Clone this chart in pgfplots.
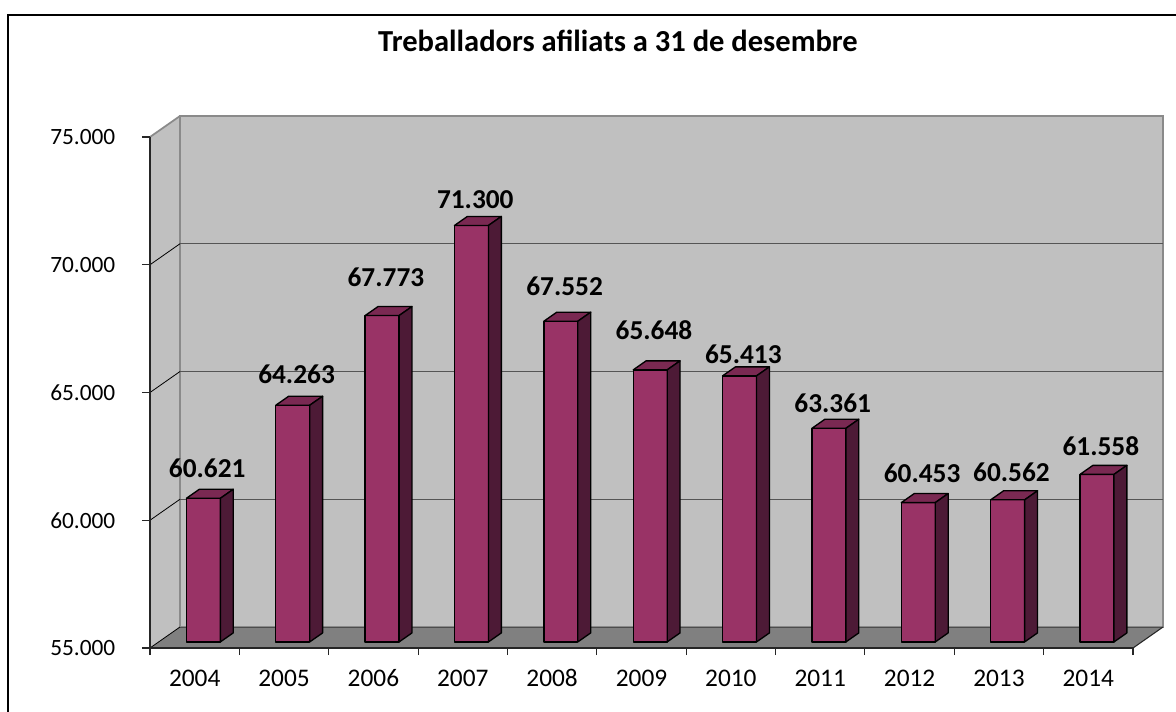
\documentclass[border=0pt]{standalone}
\usepackage{fontspec}
\setmainfont{Carlito}
\usepackage{pgfplots}
\usepackage{pgfplotstable}
\pgfplotsset{compat=1.18}

\definecolor{wall}{HTML}{C0C0C0}
\definecolor{floorc}{HTML}{808080}
\definecolor{barfront}{HTML}{993366}
\definecolor{bartop}{HTML}{7A2952}
\definecolor{barside}{HTML}{4D1A36}
\definecolor{gridc}{HTML}{555555}
\definecolor{edgec}{HTML}{8A8A8A}

% values in thousands; ly = height of the data label
\pgfplotstableread{
i v ly
0 60.621 62.045
1 64.263 65.724
2 67.773 69.521
3 71.300 72.535
4 67.552 69.169
5 65.648 67.447
6 65.413 66.507
7 63.361 64.589
8 60.453 61.850
9 60.562 61.889
10 61.558 62.906
}\data

\begin{document}
\begin{tikzpicture}
\begin{axis}[
  at={(0,0)}, anchor=south west,
  scale only axis, width=737.25pt, height=383.25pt,
  xmin=0, xmax=11, ymin=55, ymax=75,
  clip=false, axis on top,
  axis lines=left,
  axis line style={-, line width=1pt, draw=black!85},
  tick align=outside,
  major tick length=6pt, minor tick length=5.25pt,
  tick style={line width=0.8pt, black!85},
  xtick={0.5,1.5,...,10.5},
  xticklabels={2004,2005,2006,2007,2008,2009,2010,2011,2012,2013,2014},
  minor xtick={0,1,...,11},
  major x tick style={draw=none},
  ytick={55,60,65,70,75},
  yticklabels={55.000,60.000,65.000,70.000,75.000},
  /pgf/number format/assume math mode=true,
  xticklabel style={font=\fontsize{19}{23}\selectfont, text height=13pt, text depth=0pt, yshift=-6pt},
  yticklabel style={font=\fontsize{17.5}{21}\selectfont, xshift=-16.5pt},
]
% walls and floor
\addplot[fill=wall, draw=none] coordinates {(0,55) (0,75) (0.3356,75.822) (0.3356,55.822)} -- cycle;
\addplot[fill=wall, draw=edgec, line width=1.3pt] coordinates {(0.3356,55.822) (11.3356,55.822) (11.3356,75.822) (0.3356,75.822)} -- cycle;
\addplot[draw=edgec, line width=1.3pt] coordinates {(0,75) (0.3356,75.822)};
\addplot[fill=floorc, draw=none] coordinates {(0,55) (11,55) (11.3356,55.822) (0.3356,55.822)} -- cycle;
\addplot[draw=black!70, line width=0.6pt] coordinates {(0.3356,55.822) (11.3356,55.822)};
\addplot[draw=black!85, line width=0.8pt] coordinates {(11,55) (11.3356,55.822)};
% grid lines on the back wall and the side wall
\addplot[draw=gridc, line width=1pt] coordinates {(0.3356,60.822) (11.3356,60.822)};
\addplot[draw=gridc, line width=1pt] coordinates {(0.3356,65.822) (11.3356,65.822)};
\addplot[draw=gridc, line width=1pt] coordinates {(0.3356,70.822) (11.3356,70.822)};
\addplot[draw=black, line width=0.6pt] coordinates {(0,55) (0.3356,55.822)};
\addplot[draw=black, line width=0.6pt] coordinates {(0,60) (0.3356,60.822)};
\addplot[draw=black, line width=0.6pt] coordinates {(0,65) (0.3356,65.822)};
\addplot[draw=black, line width=0.6pt] coordinates {(0,70) (0.3356,70.822)};
% bars
\pgfplotsinvokeforeach{0,...,10}{
  \pgfplotstablegetelem{#1}{v}\of\data
  \pgfmathsetmacro\L{#1+0.5-0.19+0.0973}
  \pgfmathsetmacro\R{\L+0.38}
  \pgfmathsetmacro\B{55.238}
  \pgfmathsetmacro\T{\pgfplotsretval+0.238}
  \pgfmathsetmacro\Lb{\L+0.1443}
  \pgfmathsetmacro\Rb{\R+0.1443}
  \pgfmathsetmacro\Bb{\B+0.353}
  \pgfmathsetmacro\Tb{\T+0.353}
  \edef\temp{%
    \noexpand\addplot[fill=barfront, draw=black, line width=1pt, line join=round] coordinates {(\L,\B) (\R,\B) (\R,\T) (\L,\T)} -- cycle;
    \noexpand\addplot[fill=bartop, draw=black, line width=1pt, line join=round] coordinates {(\L,\T) (\R,\T) (\Rb,\Tb) (\Lb,\Tb)} -- cycle;
    \noexpand\addplot[fill=barside, draw=black, line width=1pt, line join=round] coordinates {(\R,\B) (\Rb,\Bb) (\Rb,\Tb) (\R,\T)} -- cycle;
  }\temp
}
% data labels
\addplot[draw=none, mark=none, nodes near coords, point meta=explicit symbolic,
  nodes near coords style={font=\bfseries\fontsize{20.5}{24}\selectfont, anchor=center, inner sep=0pt}]
  table[x expr=\thisrow{i}+0.64, y=ly, meta=v] {\data};
\end{axis}
\node[font=\bfseries\fontsize{22.9}{27}\selectfont, anchor=base] at (351pt,447pt) {Treballadors afiliats a 31 de desembre};
\draw[line width=1.2pt] (-106.5pt,-80pt) -- (-106.5pt,474.75pt) -- (820pt,474.75pt);
\pgfresetboundingbox
\useasboundingbox (-112.5pt,-47.25pt) rectangle (769.5pt,486pt);
\end{tikzpicture}
\end{document}
